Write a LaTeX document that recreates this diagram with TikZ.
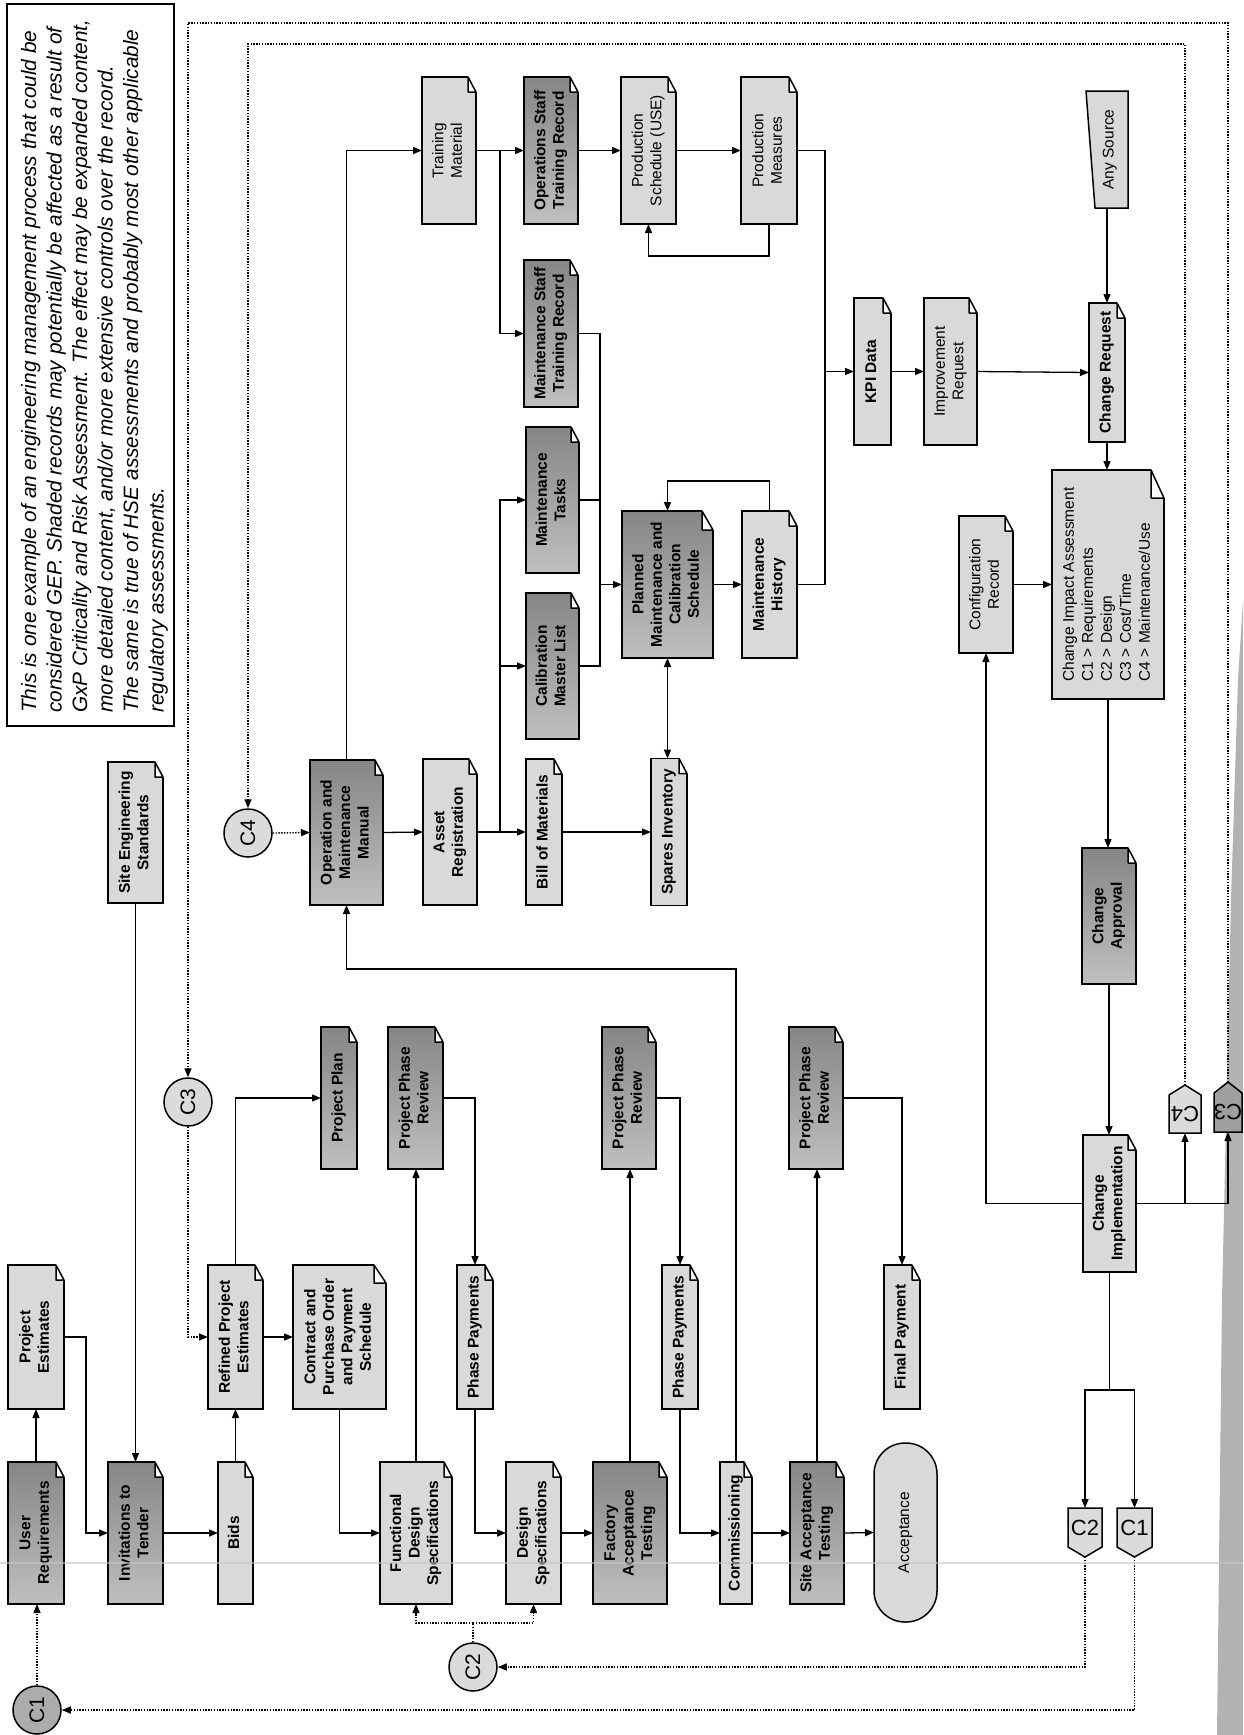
\documentclass[tikz,border=0pt]{standalone}
\usepackage{fontspec}
\setmainfont{Liberation Sans}
\usepackage{graphicx}
\usetikzlibrary{arrows.meta}
\newcommand{\rt}[1]{\rotatebox{90}{\begin{tabular}{@{}c@{}}#1\end{tabular}}}
\newcommand{\rtl}[1]{\rotatebox{90}{\begin{tabular}{@{}l@{}}#1\end{tabular}}}
\newcommand{\dogear}[3]{%
 \fill[white] ([xshift=-#2pt]#1.north east) -- ([xshift=-#2pt,yshift=2pt]#1.north east) -- ([xshift=2pt,yshift=2pt]#1.north east) -- ([xshift=2pt,yshift=-#3pt]#1.north east) -- ([yshift=-#3pt]#1.north east) -- cycle;
 \draw[boxline,fill=white,line join=round] ([xshift=-#2pt]#1.north east) -- ([yshift=-#3pt]#1.north east) -- ([xshift=-#2pt,yshift=-#3pt]#1.north east) -- cycle;}
\begin{document}
\begin{tikzpicture}[x=1pt,y=-1pt,
 boxline/.style={line width=1.5pt},
 bx/.style={draw, boxline, inner sep=0pt, outer sep=0pt, font=\fontsize{15.5}{18.5}\selectfont\bfseries},
 bxr/.style={bx, font=\fontsize{15.5}{18.5}\selectfont},
 lt/.style={fill=gray!30},
 dk/.style={top color=gray!95, bottom color=gray!50},
 sz/.style 2 args={minimum width=#1pt, minimum height=#2pt},
 ln/.style={line width=1.3pt},
 ar/.style={line width=1.3pt, -{Triangle[length=9pt,width=7pt]}},
 dotln/.style={line width=1.4pt, dash pattern=on 1.4pt off 1.4pt},
 dotar/.style={dotln, -{Triangle[length=9pt,width=7pt]}},
 cc/.style={circle, draw, boxline, minimum size=48pt, inner sep=0pt, fill=gray!28, font=\fontsize{21}{21}\selectfont},
 offp/.style={inner sep=0pt, outer sep=0pt, font=\fontsize{22}{22}\selectfont},
]
\fill[white] (0,0) rectangle (1243,1735);
\useasboundingbox (0,0) rectangle (1243,1735);
% scan shadow strip on the right edge
\fill[gray!60] (1243,600) -- (1238,680) -- (1231,900) -- (1222,1300) -- (1217,1735) -- (1243,1735) -- cycle;

% note
\node[draw, line width=1.5pt, sz={167}{722}, inner sep=0pt] (note) at (90.5,365) {};
\node[anchor=south west, inner sep=0pt, font=\fontsize{20.8}{25.5}\selectfont\itshape] (notetext) at (18,713) {\rtl{This is one example of an engineering management process that could be\\considered GEP. Shaded records may potentially be affected as a result of\\GxP Criticality and Risk Assessment. The effect may be expanded content,\\more detailed content, and/or more extensive controls over the record.\\The same is true of HSE assessments and probably most other applicable\\regulatory assessments.}};

% project phase boxes
\node[bx,dk,sz={56}{142}] (ur) at (36,1533) {\rt{User\\Requirements}};
\node[bx,lt,sz={56}{144}] (pe) at (36,1337) {\rt{Project\\Estimates}};
\node[bx,dk,sz={55}{142}] (itt) at (135.5,1533) {\rt{Invitations to\\Tender}};
\node[bx,lt,sz={55}{141}] (ses) at (135.5,832.5) {\rt{Site Engineering\\Standards}};
\node[bx,lt,sz={35}{142}] (bids) at (235.5,1533) {\rt{Bids}};
\node[bx,lt,sz={55}{144}] (rpe) at (235.5,1337) {\rt{Refined Project\\Estimates}};
\node[bx,dk,sz={36}{142}] (pp) at (339,1098) {\rt{Project Plan}};
\node[bx,lt,sz={93}{144}] (cpo) at (339.5,1337) {\rt{Contract and\\Purchase Order\\and Payment\\Schedule}};
\node[bx,lt,sz={72}{142}] (fds) at (416,1533) {\rt{Functional\\Design\\Specifications}};
\node[bx,dk,sz={55}{142}] (ppr1) at (415.5,1098) {\rt{Project Phase\\Review}};
\node[bx,lt,sz={36}{144}] (pay1) at (475,1337) {\rt{Phase Payments}};
\node[bx,lt,sz={55}{142}] (ds) at (533.5,1533) {\rt{Design\\Specifications}};
\node[bx,dk,sz={74}{142}] (fat) at (630,1533) {\rt{Factory\\Acceptance\\Testing}};
\node[bx,dk,sz={54}{142}] (ppr2) at (629,1098) {\rt{Project Phase\\Review}};
\node[bx,lt,sz={36}{144}] (pay2) at (680,1337) {\rt{Phase Payments}};
\node[bx,lt,sz={32}{142}] (com) at (736,1533) {\rt{Commissioning}};
\node[bx,dk,sz={54}{142}] (sat) at (817,1533) {\rt{Site Acceptance\\Testing}};
\node[bx,dk,sz={54}{142}] (ppr3) at (816,1098) {\rt{Project Phase\\Review}};
\node[bx,lt,sz={36}{144}] (fp) at (902,1337) {\rt{Final Payment}};
\node[bxr,lt,sz={63}{179},rounded corners=31pt] (acc) at (905.5,1532.5) {\rt{Acceptance}};

% maintenance area
\node[bx,dk,sz={73}{145}] (om) at (346.5,832.5) {\rt{Operation and\\Maintenance\\Manual}};
\node[bx,lt,sz={54}{146}] (ar) at (450,832) {\rt{Asset\\Registration}};
\node[bx,lt,sz={36}{146}] (bom) at (544,832) {\rt{Bill of Materials}};
\node[bx,lt,sz={36}{147}] (si) at (669,832) {\rt{Spares Inventory}};
\node[bx,dk,sz={53}{146}] (cml) at (552.5,666) {\rt{Calibration\\Master List}};
\node[bx,dk,sz={53}{146}] (mt) at (552.5,500) {\rt{Maintenance\\Tasks}};
\node[bx,dk,sz={54}{147}] (mstr) at (551,333.5) {\rt{Maintenance Staff\\Training Record}};
\node[bxr,lt,sz={54}{147}] (tm) at (449,150.5) {\rt{Training\\Material}};
\node[bx,dk,sz={54}{147}] (ostr) at (551,150.5) {\rt{Operations Staff\\Training Record}};
\node[bxr,lt,sz={55}{147}] (ps) at (648.5,150.5) {\rt{Production\\Schedule (USE)}};
\node[bxr,lt,sz={56}{147}] (pm) at (769,150.5) {\rt{Production\\Measures}};
\node[bx,dk,sz={91}{147}] (pmcs) at (667.5,584.5) {\rt{Planned\\Maintenance and\\Calibration\\Schedule}};
\node[bx,lt,sz={55}{147}] (mh) at (769.5,584.5) {\rt{Maintenance\\History}};
\node[bx,lt,sz={37}{147}] (kpi) at (872.5,371.5) {\rt{KPI Data}};
\node[bxr,lt,sz={53}{147}] (ir) at (950.5,371.5) {\rt{Improvement\\Request}};
\node[bx,lt,sz={36}{139}] (cr) at (1107,372.5) {\rt{Change Request}};
\filldraw[boxline,fill=gray!30] (1086,91) -- (1128,91) -- (1128,208) -- (1095,208) -- cycle;
\node[bxr,draw=none,sz={38}{117}] (as) at (1110,149.5) {\rt{Any Source}};
\node[bxr,lt,sz={54}{137}] (cfg) at (986,584.5) {\rt{Configuration\\Record}};
\node[bxr,lt,sz={112}{229},font=\fontsize{15.5}{19}\selectfont] (cia) at (1108,584.5) {\rtl{Change Impact Assessment\\C1 > Requirements\\C2 > Design\\C3 > Cost/Time\\C4 > Maintenance/Use}};
\node[bx,dk,sz={54}{136}] (ca) at (1109,916) {\rt{Change\\Approval}};
\node[bx,lt,sz={53}{137}] (ci) at (1109.5,1203.5) {\rt{Change\\Implementation}};

% folded corners
\foreach \n in {ur,pe,itt,ses,bids,rpe,pp,fds,ppr1,pay1,ds,fat,ppr2,pay2,com,sat,ppr3,fp,om,ar,bom,si,cml,mt,mstr,tm,ostr,ps,pm,mh,kpi,ir,cr,cfg,ca,ci} {\dogear{\n}{8}{15}}
\dogear{cpo}{12}{18}
\dogear{pmcs}{11}{19}
\dogear{cia}{13}{28}

% connector circles
\node[cc] (c3c) at (188,1102) {\rotatebox{90}{C3}};
\node[cc] (c4c) at (248,833) {\rotatebox{90}{C4}};
\node[cc] (c2c) at (473,1667) {\rotatebox{90}{C2}};
\node[cc,fill=gray!65] (c1c) at (37,1710) {\rotatebox{90}{C1}};

% off-page connectors
\filldraw[boxline,fill=gray!28] (1068,1508) -- (1102,1508) -- (1102,1547) -- (1085,1557) -- (1068,1547) -- cycle;
\node[offp,sz={34}{49}] (c2o) at (1085,1532.5) {};
\node[offp] (c2t) at (1085,1528) {C2};
\filldraw[boxline,fill=gray!28] (1117,1508) -- (1152,1508) -- (1152,1547) -- (1134.5,1557) -- (1117,1547) -- cycle;
\node[offp,sz={35}{49}] (c1o) at (1134.5,1532.5) {};
\node[offp] (c1t) at (1134.5,1528) {C1};
\filldraw[boxline,fill=gray!28] (1169,1133) -- (1201,1133) -- (1201,1095) -- (1185,1085) -- (1169,1095) -- cycle;
\node[offp,sz={32}{48}] (c4o) at (1185,1109) {};
\node[offp] (c4t) at (1185,1114) {\rotatebox{180}{C4}};
\filldraw[boxline,fill=gray!75] (1214,1132) -- (1242,1132) -- (1242,1093) -- (1228,1082) -- (1214,1093) -- cycle;
\node[offp] (c3o) at (1228,1107) [sz={28}{50}] {};
\node[offp] (c3t) at (1228,1112) {\rotatebox{180}{C3}};

% connectors: project
\draw[ar] (ur.north) -- (pe.south);
\draw[ar] (pe.east) -- ++(22,0) |- (itt.west);
\draw[ar] (ses.south) -- (itt.north);
\draw[ar] (itt.east) -- (bids.west);
\draw[ar] (bids.north) -- (rpe.south);
\draw[ar] (rpe.east) -- (cpo.west);
\draw[ar] (rpe.north) |- (pp.west);
\draw[ar] (cpo.south) |- (fds.west);
\draw[ar] (fds.north) -- (fds.north |- ppr1.south);
\draw[ar] (ppr1.east) -| (pay1.north);
\draw[ar] (pay1.south) |- (ds.west);
\draw[ar] (ds.east) -- (fat.west);
\draw[ar] (fat.north) -- (fat.north |- ppr2.south);
\draw[ar] (ppr2.east) -| (pay2.north);
\draw[ar] (pay2.south) |- (com.west);
\coordinate (k1) at (0,969);
\draw[ar] (com.north) -- (com.north |- k1) -| (om.south);
\draw[ar] (com.east) -- (sat.west);
\draw[ar] (sat.north) -- (sat.north |- ppr3.south);
\draw[ar] (ppr3.east) -| (fp.north);
\draw[ar] (sat.east) -- (acc.west);

% connectors: maintenance
\draw[ar] (om.north) |- (tm.west);
\draw[ar] (om.east) -- (ar.west);
\draw[ar] (ar.east) -- (bom.west);
\coordinate (j1) at (500,832);
\draw[ar] (j1) |- (mt.west);
\draw[ar] (j1 |- cml.west) -- (cml.west);
\draw[ar] (bom.east) -- (si.west);
\draw[ar] (tm.east) -- (ostr.west);
\coordinate (j2) at (500,150.5);
\draw[ar] (j2) |- (mstr.west);
\draw[ar] (ostr.east) -- (ps.west);
\draw[ar] (ps.east) -- (pm.west);
\draw[ar] (pm.south) -- ++(0,32) -| (ps.south);
\coordinate (j3) at (600,584.5);
\draw[ln] (mstr.east) -| (j3 |- cml.east) -- (cml.east);
\draw[ln] (mt.east) -- (j3 |- mt.east);
\draw[ar] (j3) -- (pmcs.west);
\draw[ar] (pmcs.east) -- (mh.west);
\draw[ar] (mh.north) -- ++(0,-30) -| (pmcs.north);
\draw[ln,{Triangle[length=9pt,width=7pt]}-{Triangle[length=9pt,width=7pt]}] (pmcs.south) -- (pmcs.south |- si.north);
\coordinate (j4) at (825,371.5);
\draw[ln] (pm.east) -| (j4 |- mh.east) -- (mh.east);
\draw[ar] (j4) -- (kpi.west);
\draw[ar] (kpi.east) -- (ir.west);
\draw[ar] (ir.east) -- (cr.west);
\draw[ar] (cr.north |- as.south) -- (cr.north);
\draw[ar] (cr.south) -- (cr.south |- cia.north);
\draw[ar] (cfg.east) -- (cia.west);
\draw[ar] (cia.south) -- (cia.south |- ca.north);
\draw[ar] (ca.south) -- (ca.south |- ci.north);
\draw[ar] (ci.west) -| (cfg.south);
\draw[ar] (ci.east) -| (c3o.south);
\draw[ar] (c4o.south |- ci.east) -- (c4o.south);
\coordinate (j5) at (1109.5,1390);
\draw[ln] (ci.south) -- (j5);
\draw[ar] (j5) -| (c2o.north);
\draw[ar] (j5) -| (c1o.north);

% dotted change loops
\draw[dotar] (c2o.south) |- (c2c.east);
\draw[dotar] (c1o.south) |- (c1c.east);
\draw[dotar] (c1c.north) -- (c1c.north |- ur.south);
\coordinate (j6) at (473,1623);
\draw[dotln] (c2c.north) -- (j6);
\draw[dotar] (j6) -| (fds.south);
\draw[dotar] (j6) -| (ds.south);
\coordinate (t3) at (188,23);
\draw[dotar] (c3o.north) -- (c3o.north |- t3) -| (c3c.north);
\draw[dotar] (c3c.south) |- (rpe.west);
\coordinate (t4) at (248,44);
\draw[dotar] (c4o.north) -- (c4o.north |- t4) -| (c4c.north);
\draw[dotar] (c4c.east) -- (om.west);

% faint scan line
\draw[gray!45, line width=1.5pt, opacity=0.6] (0,1563) -- (1243,1563);
\end{tikzpicture}
\end{document}
